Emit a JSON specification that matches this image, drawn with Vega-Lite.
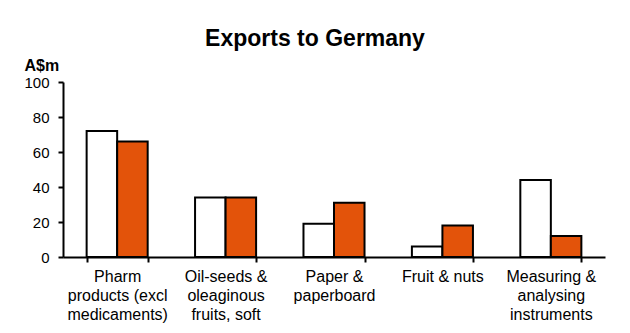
{
  "$schema": "https://vega.github.io/schema/vega-lite/v6.json",
  "width": 542,
  "height": 175,
  "autosize": {"type": "none"},
  "padding": {"left": 63, "top": 82, "right": 25, "bottom": 76},
  "background": "white",
  "title": {
    "text": "Exports to Germany",
    "font": "Liberation Sans",
    "fontSize": 23,
    "fontWeight": "bold",
    "color": "black",
    "anchor": "middle",
    "dx": -19,
    "offset": 6
  },
  "data": {
    "values": [
      {"category": "Pharm products (excl medicaments)", "series": "Year 1", "value": 72},
      {"category": "Pharm products (excl medicaments)", "series": "Year 2", "value": 66},
      {"category": "Oil-seeds & oleaginous fruits, soft", "series": "Year 1", "value": 34},
      {"category": "Oil-seeds & oleaginous fruits, soft", "series": "Year 2", "value": 34},
      {"category": "Paper & paperboard", "series": "Year 1", "value": 19},
      {"category": "Paper & paperboard", "series": "Year 2", "value": 31},
      {"category": "Fruit & nuts", "series": "Year 1", "value": 6},
      {"category": "Fruit & nuts", "series": "Year 2", "value": 18},
      {"category": "Measuring & analysing instruments", "series": "Year 1", "value": 44},
      {"category": "Measuring & analysing instruments", "series": "Year 2", "value": 12}
    ]
  },
  "mark": {"type": "bar", "stroke": "black", "strokeWidth": 2},
  "encoding": {
    "x": {
      "field": "category",
      "type": "nominal",
      "sort": null,
      "scale": {"paddingInner": 0.437, "paddingOuter": 0.218},
      "axis": {
        "title": null,
        "labelAngle": 0,
        "tickBand": "extent",
        "tickSize": 5,
        "tickWidth": 2,
        "tickColor": "black",
        "domainColor": "black",
        "domainWidth": 2,
        "labelPadding": 6,
        "labelFont": "Liberation Sans",
        "labelFontSize": 16,
        "labelColor": "black",
        "labelLineHeight": 19,
        "labelExpr": "datum.value == 'Pharm products (excl medicaments)' ? ['Pharm', 'products (excl', 'medicaments)'] : datum.value == 'Oil-seeds & oleaginous fruits, soft' ? ['Oil-seeds &', 'oleaginous', 'fruits, soft'] : datum.value == 'Paper & paperboard' ? ['Paper &', 'paperboard'] : datum.value == 'Measuring & analysing instruments' ? ['Measuring &', 'analysing', 'instruments'] : datum.value"
      }
    },
    "xOffset": {"field": "series", "type": "nominal"},
    "y": {
      "field": "value",
      "type": "quantitative",
      "scale": {"domain": [0, 100], "nice": false},
      "axis": {
        "title": "A$m",
        "titleAngle": 0,
        "titleAlign": "left",
        "titleBaseline": "alphabetic",
        "titleX": -39,
        "titleY": -12,
        "titleFont": "Liberation Sans",
        "titleFontSize": 16,
        "titleFontWeight": "bold",
        "titleColor": "black",
        "values": [0, 20, 40, 60, 80, 100],
        "grid": false,
        "tickSize": 5,
        "tickWidth": 2,
        "tickColor": "black",
        "domainColor": "black",
        "domainWidth": 2,
        "labelPadding": 9,
        "labelFont": "Liberation Sans",
        "labelFontSize": 15,
        "labelColor": "black"
      }
    },
    "fill": {
      "field": "series",
      "type": "nominal",
      "scale": {"domain": ["Year 1", "Year 2"], "range": ["white", "#E3530A"]},
      "legend": null
    }
  },
  "config": {"view": {"stroke": null}}
}
